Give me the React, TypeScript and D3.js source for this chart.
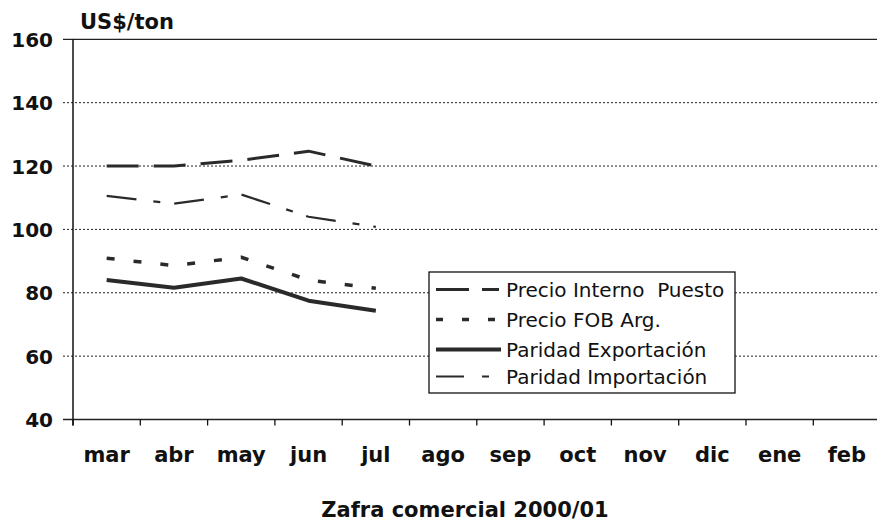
import React from "react";
import * as d3 from "d3";

const months = ["mar", "abr", "may", "jun", "jul", "ago", "sep", "oct", "nov", "dic", "ene", "feb"];
const yTicks = [40, 60, 80, 100, 120, 140, 160];

const precioInterno = [120, 120, 121.8, 124.7, 120];
const precioFOB = [90.9, 88.6, 91.2, 84, 81.4];
const paridadExportacion = [84, 81.6, 84.5, 77.5, 74.3];
const paridadImportacion = [110.6, 108.1, 111, 104, 100.8];

const seriesNames = ["Precio Interno  Puesto", "Precio FOB Arg.", "Paridad Exportación", "Paridad Importación"];

const W = 877;
const H = 522;

export default function App() {
  const x = d3.scaleBand<string>().domain(months).range([73, 880.6]).paddingInner(0).paddingOuter(0);
  const y = d3.scaleLinear().domain([40, 160]).range([419.5, 39.3]);
  const cx = (i: number) => (x(months[i]) as number) + x.bandwidth() / 2;
  const line = d3
    .line<number>()
    .x((_, i) => cx(i))
    .y((d) => y(d));

  const styles = [
    { data: precioInterno, width: 3, dash: "32 15", color: "#2a2a2a" },
    { data: precioFOB, width: 3.5, dash: "8 19", color: "#2a2a2a" },
    { data: paridadExportacion, width: 4, dash: "none", color: "#2a2a2a" },
    { data: paridadImportacion, width: 2.2, dash: "30 17 7 14", color: "#2a2a2a" },
  ];

  const legendX = 429;
  const legendY = 272;
  const legendW = 306;
  const legendH = 121;
  const rowY = [289.5, 319.5, 349.5, 376.5];
  const legendDash = ["33 13 17 40", "7 19", "none", "28 18 7 40"];

  return (
    <div style={{ position: "absolute", left: 0, top: 0 }}>
      <svg width={W} height={H} style={{ display: "block", background: "#fff" }}>
        {/* gridlines */}
        {yTicks.map((t) => (
          <line
            key={"g" + t}
            x1={63}
            x2={W}
            y1={y(t)}
            y2={y(t)}
            stroke="#222"
            strokeWidth={t === 160 || t === 40 ? 1.3 : 1}
            strokeDasharray={t === 160 || t === 40 ? "none" : "2 2"}
          />
        ))}
        {/* y axis */}
        <line x1={73} x2={73} y1={y(160)} y2={y(40) + 6} stroke="#111" strokeWidth={1.5} />
        {/* x ticks */}
        {months.map((m) => (
          <line
            key={"t" + m}
            x1={x(m) as number}
            x2={x(m) as number}
            y1={y(40)}
            y2={y(40) + 6}
            stroke="#111"
            strokeWidth={1.3}
          />
        ))}
        {/* y labels */}
        {yTicks.map((t) => (
          <text
            key={"yl" + t}
            x={53}
            y={y(t) + 7.5}
            textAnchor="end"
            fontFamily="DejaVu Sans"
            fontWeight="bold"
            fontSize={20}
            fill="#111"
          >
            {t}
          </text>
        ))}
        <text x={80} y={28.5} fontFamily="DejaVu Sans" fontWeight="bold" fontSize={21} fill="#111">
          US$/ton
        </text>
        {/* x labels */}
        {months.map((m, i) => (
          <text
            key={"xl" + m}
            x={cx(i)}
            y={461.5}
            textAnchor="middle"
            fontFamily="DejaVu Sans"
            fontWeight="bold"
            fontSize={21}
            fill="#111"
          >
            {m}
          </text>
        ))}
        <text x={465} y={517} textAnchor="middle" fontFamily="DejaVu Sans" fontWeight="bold" fontSize={21} fill="#111">
          Zafra comercial 2000/01
        </text>
        {/* series */}
        {styles.map((s, i) => (
          <path
            key={"s" + i}
            d={line(s.data) as string}
            fill="none"
            stroke={s.color}
            strokeWidth={s.width}
            strokeDasharray={s.dash}
            strokeLinejoin="round"
          />
        ))}
        {/* legend */}
        <rect x={legendX} y={legendY} width={legendW} height={legendH} fill="#fff" stroke="#111" strokeWidth={1.3} />
        {seriesNames.map((n, i) => (
          <g key={"lg" + i}>
            <line
              x1={436}
              x2={501}
              y1={rowY[i]}
              y2={rowY[i]}
              stroke={styles[i].color}
              strokeWidth={styles[i].width}
              strokeDasharray={legendDash[i]}
            />
            <text
              x={506}
              y={rowY[i] + 7}
              fontFamily="DejaVu Sans"
              fontSize={20}
              fill="#111"
              style={{ whiteSpace: "pre" }}
            >
              {n}
            </text>
          </g>
        ))}
      </svg>
    </div>
  );
}
